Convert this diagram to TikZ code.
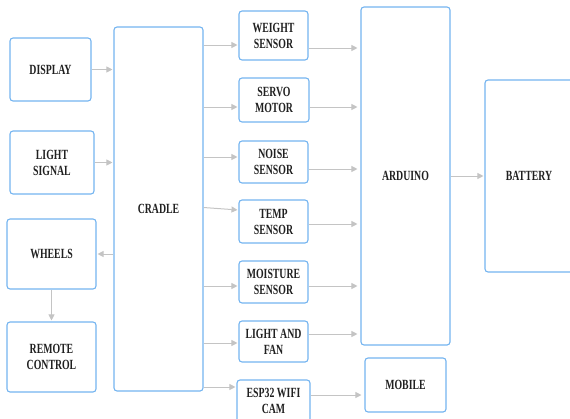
\documentclass[tikz,border=0pt]{standalone}
\usepackage{fontspec}
\newfontfamily\lblfont{Liberation Serif}[FakeStretch=0.7]
\usetikzlibrary{arrows.meta}
\definecolor{boxblue}{HTML}{74B4F0}
\definecolor{arrgray}{HTML}{C4C4C4}
\definecolor{txt}{HTML}{202020}
\begin{document}
\begin{tikzpicture}[x=1pt,y=-1pt,
  blk/.style={draw=boxblue, line width=1.1pt, rounded corners=3pt, fill=white,
    inner sep=0pt, align=center, text=txt,
    font=\lblfont\bfseries\fontsize{14}{16}\selectfont},
  arr/.style={draw=arrgray, line width=1pt, -{Triangle[length=6pt,width=6pt]}, shorten >=1pt},
  arrA/.style={arr, shorten >=3pt}]
\useasboundingbox (0,0) rectangle (570,418);
% left column
\node[blk, minimum width=81pt, minimum height=63pt] (display) at (50.5,69.5) {DISPLAY};
\node[blk, minimum width=84pt, minimum height=63pt] (light) at (52,162.5) {LIGHT\\SIGNAL};
\node[blk, minimum width=89pt, minimum height=70pt] (wheels) at (51.5,254) {WHEELS};
\node[blk, minimum width=89pt, minimum height=70pt] (remote) at (51.5,357) {REMOTE\\CONTROL};
% cradle
\node[blk, minimum width=89pt, minimum height=364pt] (cradle) at (158.5,209) {CRADLE};
% sensors
\node[blk, minimum width=69pt, minimum height=49pt] (weight) at (273.5,35.5) {WEIGHT\\SENSOR};
\node[blk, minimum width=70pt, minimum height=44pt] (servo) at (274,100) {SERVO\\MOTOR};
\node[blk, minimum width=69pt, minimum height=42pt] (noise) at (273.5,162) {NOISE\\SENSOR};
\node[blk, minimum width=69pt, minimum height=43pt] (temp) at (273.5,221.5) {TEMP\\SENSOR};
\node[blk, minimum width=69pt, minimum height=42pt] (moist) at (273.5,282) {MOISTURE\\SENSOR};
\node[blk, minimum width=69pt, minimum height=41pt] (lfan) at (273.5,341.5) {LIGHT AND\\FAN};
\node[blk, minimum width=73pt, minimum height=42pt] (esp) at (273.5,401) {ESP32 WIFI\\CAM};
% right
\node[blk, minimum width=89pt, minimum height=338pt] (arduino) at (405.5,176) {ARDUINO};
\node[blk, minimum width=81pt, minimum height=54pt] (mobile) at (405.5,385) {MOBILE};
\node[blk, minimum width=88pt, minimum height=192pt] (battery) at (529,176) {BATTERY};
% connectors left
\draw[arr] (display.east) -- (display.east -| cradle.west);
\draw[arr] (light.east) -- (light.east -| cradle.west);
\draw[arr] (cradle.west |- wheels.east) -- (wheels.east);
\draw[arr] (wheels.south) -- (remote.north);
% cradle to sensors
\draw[arr] ([yshift=-9.5pt]weight.west -| cradle.east) -- ([yshift=-9.5pt]weight.west);
\draw[arr] ([yshift=-7pt]servo.west -| cradle.east) -- ([yshift=-7pt]servo.west);
\draw[arr] ([yshift=5pt]noise.west -| cradle.east) -- ([yshift=5pt]noise.west);
\draw[arr] ([yshift=14pt]temp.west -| cradle.east) -- ([yshift=11.5pt]temp.west);
\draw[arr] ([yshift=-4pt]moist.west -| cradle.east) -- ([yshift=-4pt]moist.west);
\draw[arr] ([yshift=-1.5pt]lfan.west -| cradle.east) -- ([yshift=-1.5pt]lfan.west);
\draw[arr] ([yshift=14pt]esp.west -| cradle.east) -- ([yshift=14pt]esp.west);
% sensors to arduino
\draw[arrA] ([yshift=-12.5pt]weight.east) -- ([yshift=-12.5pt]weight.east -| arduino.west);
\draw[arrA] ([yshift=-7pt]servo.east) -- ([yshift=-7pt]servo.east -| arduino.west);
\draw[arrA] ([yshift=-7pt]noise.east) -- ([yshift=-7pt]noise.east -| arduino.west);
\draw[arrA] ([yshift=-2.5pt]temp.east) -- ([yshift=-2.5pt]temp.east -| arduino.west);
\draw[arrA] ([yshift=-4pt]moist.east) -- ([yshift=-4pt]moist.east -| arduino.west);
\draw[arrA] ([yshift=7.5pt]lfan.east) -- ([yshift=7.5pt]lfan.east -| arduino.west);
\draw[arrA] ([yshift=6pt]esp.east) -- ([yshift=6pt]esp.east -| mobile.west);
\draw[arr] (arduino.east) -- (battery.west);
\end{tikzpicture}
\end{document}
